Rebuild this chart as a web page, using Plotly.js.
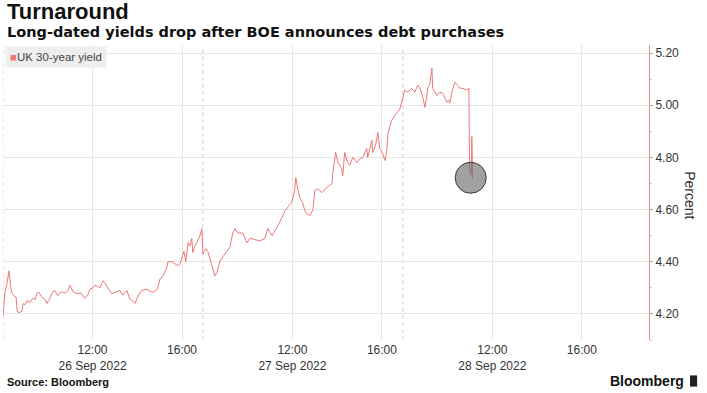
<!DOCTYPE html>
<html>
<head>
<meta charset="utf-8">
<script src="https://cdn.plot.ly/plotly-3.0.1.min.js"></script>
<style>html,body{margin:0;padding:0;background:#fff;}#chart{width:707px;height:393px;}</style>
</head>
<body>
<div id="chart"></div>
<script>
// ---- Data ----
const day1Date = '2022-09-26';
const day1Times = ['08:00','08:05','08:11','08:16','08:21','08:24','08:29','08:35','08:38','08:43','08:51','08:54','08:59','09:04','09:12','09:20','09:26','09:31','09:36','09:44','09:53','09:58','10:06','10:11','10:19','10:27','10:35','10:46','10:54','10:59','11:08','11:18','11:29','11:40','11:48','11:53','12:01','12:06','12:14','12:20','12:28','12:33','12:41','12:52','13:03','13:13','13:21','13:32','13:40','13:48','13:54','14:02','14:12','14:26','14:39','14:47','14:55','15:01','15:09','15:19','15:22','15:33','15:41','15:49','15:54','16:00','16:05','16:10','16:16','16:21','16:26','16:29','16:34','16:40','16:48','16:53'];
const day1Yield = [4.19,4.28,4.32,4.365,4.30,4.28,4.27,4.265,4.21,4.205,4.21,4.24,4.235,4.25,4.245,4.26,4.255,4.28,4.283,4.265,4.255,4.24,4.26,4.28,4.29,4.27,4.285,4.28,4.29,4.31,4.285,4.278,4.28,4.26,4.275,4.295,4.30,4.31,4.305,4.30,4.327,4.32,4.30,4.277,4.285,4.29,4.272,4.29,4.258,4.25,4.24,4.27,4.29,4.295,4.283,4.285,4.30,4.335,4.345,4.377,4.40,4.40,4.392,4.385,4.39,4.42,4.44,4.40,4.473,4.46,4.49,4.435,4.46,4.473,4.50,4.527];

const day2Date = '2022-09-27';
const day2Times = ['08:00','08:03','08:08','08:13','08:19','08:24','08:29','08:32','08:38','08:46','08:54','09:04','09:12','09:20','09:26','09:34','09:47','09:58','10:06','10:19','10:33','10:46','10:54','11:05','11:18','11:32','11:40','11:48','11:58','12:06','12:09','12:14','12:20','12:28','12:33','12:39','12:47','12:55','13:00','13:08','13:19','13:32','13:46','13:48','13:56','14:02','14:12','14:15','14:20','14:28','14:34','14:42','14:53','15:01','15:09','15:19','15:22','15:33','15:35','15:43','15:49','15:54','16:02','16:08','16:13','16:16','16:26','16:34','16:42','16:48','16:53'];
const day2Yield = [4.43,4.44,4.45,4.44,4.41,4.377,4.36,4.346,4.36,4.404,4.42,4.44,4.455,4.51,4.527,4.51,4.51,4.473,4.49,4.485,4.48,4.49,4.527,4.50,4.53,4.569,4.596,4.61,4.627,4.673,4.723,4.68,4.646,4.623,4.596,4.585,4.577,4.60,4.673,4.68,4.665,4.685,4.70,4.738,4.819,4.78,4.758,4.73,4.819,4.78,4.77,4.80,4.78,4.796,4.80,4.835,4.80,4.865,4.819,4.846,4.896,4.835,4.815,4.788,4.827,4.892,4.942,4.96,4.973,4.985,5.012];

const day3Date = '2022-09-28';
const day3Times = ['08:03','08:05','08:13','08:24','08:32','08:40','08:46','08:54','08:59','09:04','09:07','09:12','09:18','09:20','09:31','09:39','09:47','09:53','09:58','10:03','10:06','10:11','10:19','10:27','10:33','10:41','10:51','10:57','10:58','10:59','11:01','11:04','11:05','11:06','11:07'];
const day3Yield = [5.05,5.058,5.05,5.065,5.05,5.077,5.065,5.03,4.992,5.03,5.069,5.077,5.142,5.065,5.038,5.05,5.046,5.027,5.012,5.02,5.008,5.046,5.088,5.077,5.065,5.065,5.058,5.065,4.82,4.76,4.73,4.74,4.88,4.76,4.72];

const highlightTime = ['2022-09-28 11:02'];
const highlightYield = [4.722];

const sessionStarts = ['2022-09-26 08:00','2022-09-27 08:00','2022-09-28 08:00'];
const sessionBreaks = [['2022-09-26 16:56','2022-09-27 08:00'],['2022-09-27 16:56','2022-09-28 08:00']];
const xRange = ['2022-09-26 08:00','2022-09-28 19:00'];

const xTickVals = ['2022-09-26 12:00','2022-09-26 16:00','2022-09-27 12:00','2022-09-27 16:00','2022-09-28 12:00','2022-09-28 16:00'];
const xTickText = ['12:00<br>26 Sep 2022','16:00','12:00<br>27 Sep 2022','16:00','12:00<br>28 Sep 2022','16:00'];
const yTickVals = [4.20,4.40,4.60,4.80,5.00,5.20];
const yRange = [4.10,5.231];

const seriesName = 'UK 30-year yield';

// ---- Build series ----
function join(date, times, vals){
  const x=[], y=[];
  const n=Math.min(times.length, vals.length);
  for(let i=0;i<n;i++){x.push(date+' '+times[i]); y.push(vals[i]);}
  return {x,y};
}
const d1=join(day1Date,day1Times,day1Yield);
const d2=join(day2Date,day2Times,day2Yield);
const d3=join(day3Date,day3Times,day3Yield);
const xs=[...d1.x,...d2.x,...d3.x];
const ys=[...d1.y,...d2.y,...d3.y];

const lineColor='#ee7777';
const txt='#333333';
const font='"Liberation Sans", Arial, sans-serif';
const wide='"DejaVu Sans", sans-serif';

const traces=[
  {x:xs,y:ys,type:'scatter',mode:'lines',line:{color:lineColor,width:1},name:seriesName,showlegend:false,hoverinfo:'skip'},
  {x:highlightTime,y:highlightYield,type:'scatter',mode:'markers',
   marker:{size:31,color:'rgba(110,110,110,0.65)',line:{color:'#3a3a3a',width:1}},showlegend:false,hoverinfo:'skip'}
];

const shapes = sessionStarts.map(s=>({type:'line',xref:'x',yref:'paper',x0:s,x1:s,y0:0,y1:1,
  line:{color:'#d2d2d2',width:1,dash:'4px,3px'},layer:'below'}));
shapes.push({type:'rect',xref:'paper',yref:'paper',x0:1.0635,x1:1.0745,y0:-0.158,y1:-0.12,
  fillcolor:'#222',line:{width:0}});

const layout={
  width:707,height:393,
  margin:{l:3,r:58,t:45,b:53},
  paper_bgcolor:'#fff',plot_bgcolor:'#fff',
  font:{family:font,color:txt,size:12},
  showlegend:false,
  xaxis:{type:'date',range:xRange,
    rangebreaks:sessionBreaks.map(b=>({bounds:b})),
    tickmode:'array',tickvals:xTickVals,ticktext:xTickText,
    showgrid:true,gridcolor:'#e6e6e6',gridwidth:1,zeroline:false,showline:false,
    ticks:'',ticklabelstandoff:1,tickfont:{size:12,color:txt,family:font}},
  yaxis:{side:'right',range:yRange,tickmode:'array',tickvals:yTickVals,tickformat:'.2f',
    showgrid:true,gridcolor:'#e6e6e6',zeroline:false,
    showline:true,linecolor:'#f08a8a',linewidth:1,
    ticks:'outside',ticklen:3,tickcolor:'#aaaaaa',
    minor:{ticks:'outside',ticklen:2,dtick:0.1,tickcolor:'#cccccc',showgrid:false},
    tickfont:{size:12,color:txt,family:font}},
  shapes:shapes,
  annotations:[
    {xref:'paper',yref:'paper',x:0.003,y:1.112,xanchor:'left',yanchor:'middle',showarrow:false,
     text:'<b>Turnaround</b>',font:{size:22,color:'#111',family:font}},
    {xref:'paper',yref:'paper',x:0.003,y:1.044,xanchor:'left',yanchor:'middle',showarrow:false,
     text:'<b>Long-dated yields drop after BOE announces debt purchases</b>',font:{size:14.5,color:'#111',family:wide}},
    {xref:'paper',yref:'paper',x:0.003,y:0.959,xanchor:'left',yanchor:'middle',showarrow:false,
     text:'<span style="color:'+lineColor+'">■</span>'+seriesName,bgcolor:'#eeeeee',borderpad:4,
     font:{size:11.5,color:'#444',family:font}},
    {xref:'paper',yref:'paper',x:1.063,y:0.492,xanchor:'center',yanchor:'middle',showarrow:false,
     text:'Percent',textangle:90,font:{size:14,color:txt,family:font}},
    {xref:'paper',yref:'paper',x:0.003,y:-0.142,xanchor:'left',yanchor:'middle',showarrow:false,
     text:'<b>Source: Bloomberg</b>',font:{size:11,color:'#111',family:font}},
    {xref:'paper',yref:'paper',x:1.057,y:-0.139,xanchor:'right',yanchor:'middle',showarrow:false,
     text:'<b>Bloomberg</b>',font:{size:14,color:'#111',family:font}}
  ]
};

Plotly.newPlot('chart',traces,layout,{staticPlot:true,displayModeBar:false});
</script>
</body>
</html>
